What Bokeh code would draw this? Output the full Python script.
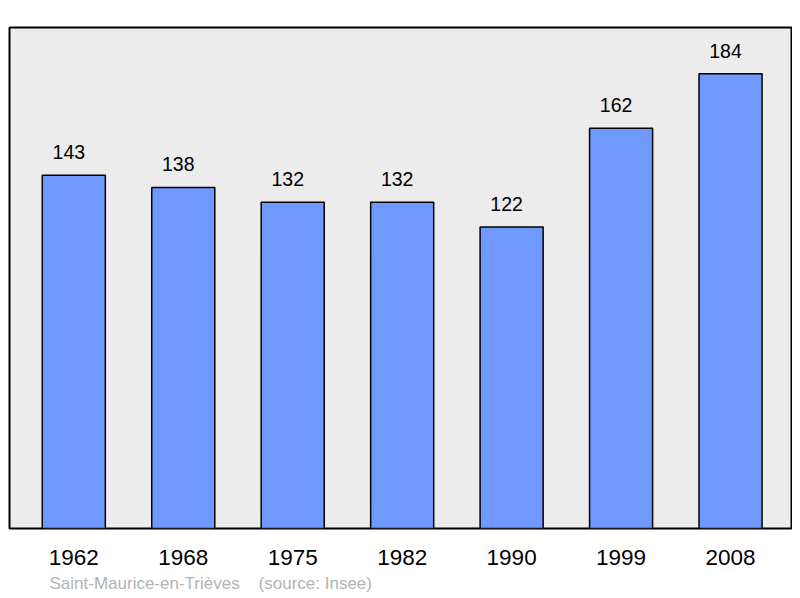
from bokeh.plotting import figure
from bokeh.models import ColumnDataSource, Range1d, FixedTicker, Title
from bokeh.core.properties import value
from bokeh.embed import file_html
from bokeh.resources import INLINE

years = ["1962", "1968", "1975", "1982", "1990", "1999", "2008"]
population = [143, 138, 132, 132, 122, 162, 184]
labels = [str(v) for v in population]
idx = list(range(len(years)))

FONT = "Liberation Sans"

src = ColumnDataSource(data=dict(x=idx, top=population, label=labels))

p = figure(width=792, height=598, output_backend="svg", toolbar_location=None,
           x_range=Range1d(-0.5875, 6.557), y_range=Range1d(0, 202.75),
           min_border_left=9, min_border_right=1, min_border_top=27, min_border_bottom=70)

p.background_fill_color = "#ececec"
p.border_fill_color = "white"
p.outline_line_color = "black"
p.outline_line_width = 2
p.xgrid.visible = False
p.ygrid.visible = False
p.yaxis.visible = False

p.vbar(x="x", top="top", width=0.576, bottom=0, source=src,
       fill_color="#7099ff", line_color="black", line_width=1.5)

p.text(x="x", y="top", text="label", source=src, text_align="center",
       text_baseline="alphabetic", x_offset=-5, y_offset=-23,
       text_font=value(FONT), text_font_size="19.5px", text_color="black")

ax = p.xaxis[0]
ax.ticker = FixedTicker(ticks=idx)
ax.major_label_overrides = {i: y for i, y in zip(idx, years)}
ax.axis_line_color = None
ax.major_tick_line_color = None
ax.minor_tick_line_color = None
ax.major_tick_out = 0
ax.major_label_standoff = 21
ax.major_label_text_font = FONT
ax.major_label_text_font_size = "22.5px"
ax.major_label_text_color = "black"

footer = Title(text="Saint-Maurice-en-Trièves\u00a0\u00a0\u00a0\u00a0(source: Insee)",
               align="left", offset=40, text_font=FONT, text_font_size="17px",
               text_font_style="normal", text_color="#b3b3b3", standoff=9)
p.add_layout(footer, "below")

open("out.html", "w").write(file_html(p, INLINE))
